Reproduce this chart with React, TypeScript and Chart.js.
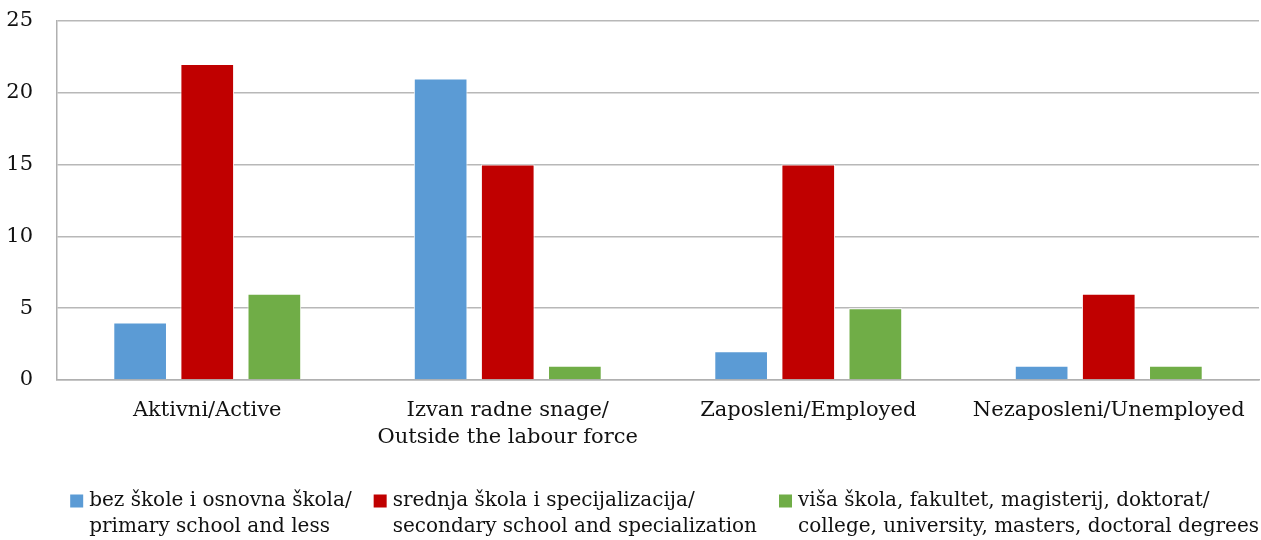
import React, { useEffect, useRef } from "react";
import { Chart, registerables } from "chart.js";

Chart.register(...registerables);

const categories: (string | string[])[] = [
  "Aktivni/Active",
  ["Izvan radne snage/", "Outside the labour force"],
  "Zaposleni/Employed",
  "Nezaposleni/Unemployed",
];

const seriesNames: string[][] = [
  ["bez škole i osnovna škola/", "primary school and less"],
  ["srednja škola i specijalizacija/", "secondary school and specialization"],
  ["viša škola, fakultet, magisterij, doktorat/", "college, university, masters, doctoral degrees"],
];

const primaryValues = [4, 21, 2, 1];
const secondaryValues = [22, 15, 15, 6];
const higherValues = [6, 1, 5, 1];

const seriesColors = ["#5B9BD5", "#C00000", "#70AD47"];

const yTicks = [0, 5, 10, 15, 20, 25];

const FONT = "'DejaVu Serif', serif";
const TEXT_COLOR = "#111111";

const legendPlugin = {
  id: "multiLineLegend",
  afterDraw(chart: any) {
    const ctx = chart.ctx as CanvasRenderingContext2D;
    const fontSize = 20;
    const lineH = 26;
    const box = 13;
    const boxGap = 6;
    const itemGap = 22;
    ctx.save();
    ctx.font = `${fontSize}px ${FONT}`;
    const items = chart.data.datasets.map((ds: any) => {
      const lines: string[] = ds.legendLines;
      const w = Math.max(...lines.map((l) => ctx.measureText(l).width));
      return { lines, w, color: ds.backgroundColor };
    });
    const total =
      items.reduce((s: number, it: any) => s + box + boxGap + it.w, 0) +
      itemGap * (items.length - 1);
    let x = chart.width - 2 - total;
    const y0 = 501;
    items.forEach((it: any) => {
      ctx.fillStyle = it.color;
      ctx.fillRect(x, y0 - box / 2, box, box);
      ctx.fillStyle = TEXT_COLOR;
      ctx.textAlign = "left";
      ctx.textBaseline = "middle";
      it.lines.forEach((l: string, i: number) => {
        ctx.fillText(l, x + box + boxGap, y0 + i * lineH);
      });
      x += box + boxGap + it.w + itemGap;
    });
    ctx.restore();
  },
};

export default function App() {
  const ref = useRef<HTMLCanvasElement | null>(null);

  useEffect(() => {
    if (!ref.current) return;
    const values = [primaryValues, secondaryValues, higherValues];
    const chart = new Chart(ref.current, {
      type: "bar",
      data: {
        labels: categories,
        datasets: values.map((v, i) => ({
          label: seriesNames[i].join(" "),
          legendLines: seriesNames[i],
          data: v,
          backgroundColor: seriesColors[i],
          borderColor: "#ffffff",
          borderWidth: 1,
          categoryPercentage: 0.67,
          barPercentage: 0.8,
        })) as any,
      },
      options: {
        responsive: false,
        animation: false,
        layout: { padding: { top: 21, right: 2, bottom: 80, left: 0 } },
        plugins: {
          legend: { display: false },
          tooltip: { enabled: false },
        },
        scales: {
          x: {
            grid: { display: false, drawTicks: false },
            border: { color: "#b0b0b0", width: 1.5 },
            ticks: {
              color: TEXT_COLOR,
              font: { family: FONT, size: 21, lineHeight: 1.3 },
              padding: 17,
              maxRotation: 0,
              autoSkip: false,
            },
            afterFit: (scale: any) => {
              scale.height = 80;
              scale.paddingLeft = 0;
              scale.paddingRight = 0;
            },
          },
          y: {
            min: 0,
            max: 25,
            afterBuildTicks: (scale: any) => {
              scale.ticks = yTicks.map((v) => ({ value: v }));
            },
            grid: { color: "#b8b8b8", lineWidth: 1.5, drawTicks: false },
            border: { color: "#b0b0b0", width: 1.5 },
            ticks: {
              color: TEXT_COLOR,
              font: { family: FONT, size: 21 },
              padding: 24,
            },
            afterFit: (scale: any) => {
              scale.width = 57;
              scale.paddingTop = 0;
              scale.paddingBottom = 0;
            },
          },
        },
      },
      plugins: [legendPlugin],
    });
    return () => chart.destroy();
  }, []);

  return (
    <div style={{ position: "fixed", left: 0, top: 0, width: 1261, height: 540, background: "#fff" }}>
      <canvas ref={ref} width={1261} height={540} />
    </div>
  );
}
